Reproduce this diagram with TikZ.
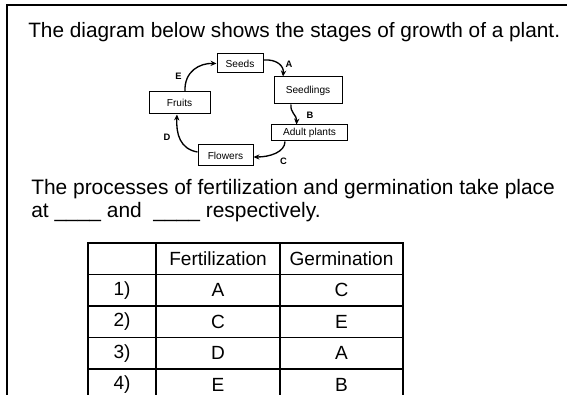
\documentclass[tikz,border=0pt]{standalone}
\usepackage{fontspec}
\setmainfont{Liberation Sans}
\usetikzlibrary{arrows.meta}
\begin{document}
\begin{tikzpicture}[x=0.75pt,y=-0.75pt,
  stage/.style={draw,line width=0.75pt,inner sep=0pt,font=\fontsize{7.6}{9}\selectfont},
  lbl/.style={font=\fontsize{7}{8}\selectfont\bfseries,inner sep=0pt},
  flow/.style={line width=1pt,-{Stealth[length=4.5pt,width=4pt]}},
  txt/.style={anchor=base west,inner sep=0pt,font=\fontsize{15.7}{19}\selectfont},
  cell/.style={inner sep=0pt,font=\fontsize{14.3}{17}\selectfont}]
\useasboundingbox (0,0) rectangle (567,395);
\draw[line width=1.1pt] (7,5) rectangle (620,430);
\node[txt,font=\fontsize{15.6}{19}\selectfont] (t1) at (28,38) {The diagram below shows the stages of growth of a plant.};
% stages
\node[stage,minimum width=34.5pt,minimum height=14.25pt] (seeds) at (240,63.5) {Seeds};
\node[stage,minimum width=51pt,minimum height=20.25pt] (seedlings) at (308,90.5) {Seedlings};
\node[stage,minimum width=57pt,minimum height=12pt] (adult) at (309.5,133) {Adult plants};
\node[stage,minimum width=41.25pt,minimum height=15.75pt] (flowers) at (225.5,155.5) {Flowers};
\node[stage,minimum width=45.75pt,minimum height=16.5pt] (fruits) at (179.5,103) {Fruits};
% arrows
\draw[flow] (seeds.east |- 0,60) .. controls (277,59) and (284,66) .. (seedlings.north -| 283,0);
\draw[flow] (seedlings.south -| 291,0) .. controls (290,113) and (297,115) .. (adult.north -| 296.5,0);
\draw[flow] (adult.south -| 285,0) .. controls (285,152) and (270,157) .. (flowers.east |- 0,157);
\draw[flow] (flowers.west |- 0,152) .. controls (180,149) and (176,134) .. (fruits.south -| 177,0);
\draw[flow] (fruits.north -| 185,0) .. controls (184,71) and (200,63) .. (seeds.west |- 0,63.5);
\node[lbl] (la) at (289,64) {A};
\node[lbl] (lb) at (310,115.5) {B};
\node[lbl] (lc) at (283.5,161) {C};
\node[lbl] (ld) at (167,137) {D};
\node[lbl] (le) at (178.5,76) {E};
% question
\node[txt] (q1) at (31,195) {The processes of fertilization and germination take place};
\node[txt] (q2) at (31,218) {at \_\_\_\_ and \ \_\_\_\_ respectively.};
% table
\draw[line width=0.9pt] (88,243) rectangle (403,420);
\foreach \x in {156,280} \draw[line width=0.9pt] (\x,243) -- (\x,420);
\foreach \y in {274.5,306,337.5,369} \draw[line width=0.9pt] (88,\y) -- (403,\y);
\node[cell] (h1) at (218,258.75) {Fertilization};
\node[cell] (h2) at (341.5,258.75) {Germination};
\node[cell] (r1) at (122,290.25) {1)};
\node[cell] (r1a) at (218,290.25) {A};
\node[cell] (r1b) at (341.5,290.25) {C};
\node[cell] (r2) at (122,321.75) {2)};
\node[cell] (r2a) at (218,321.75) {C};
\node[cell] (r2b) at (341.5,321.75) {E};
\node[cell] (r3) at (122,353.25) {3)};
\node[cell] (r3a) at (218,353.25) {D};
\node[cell] (r3b) at (341.5,353.25) {A};
\node[cell] (r4) at (122,384.75) {4)};
\node[cell] (r4a) at (218,384.75) {E};
\node[cell] (r4b) at (341.5,384.75) {B};
\end{tikzpicture}
\end{document}
